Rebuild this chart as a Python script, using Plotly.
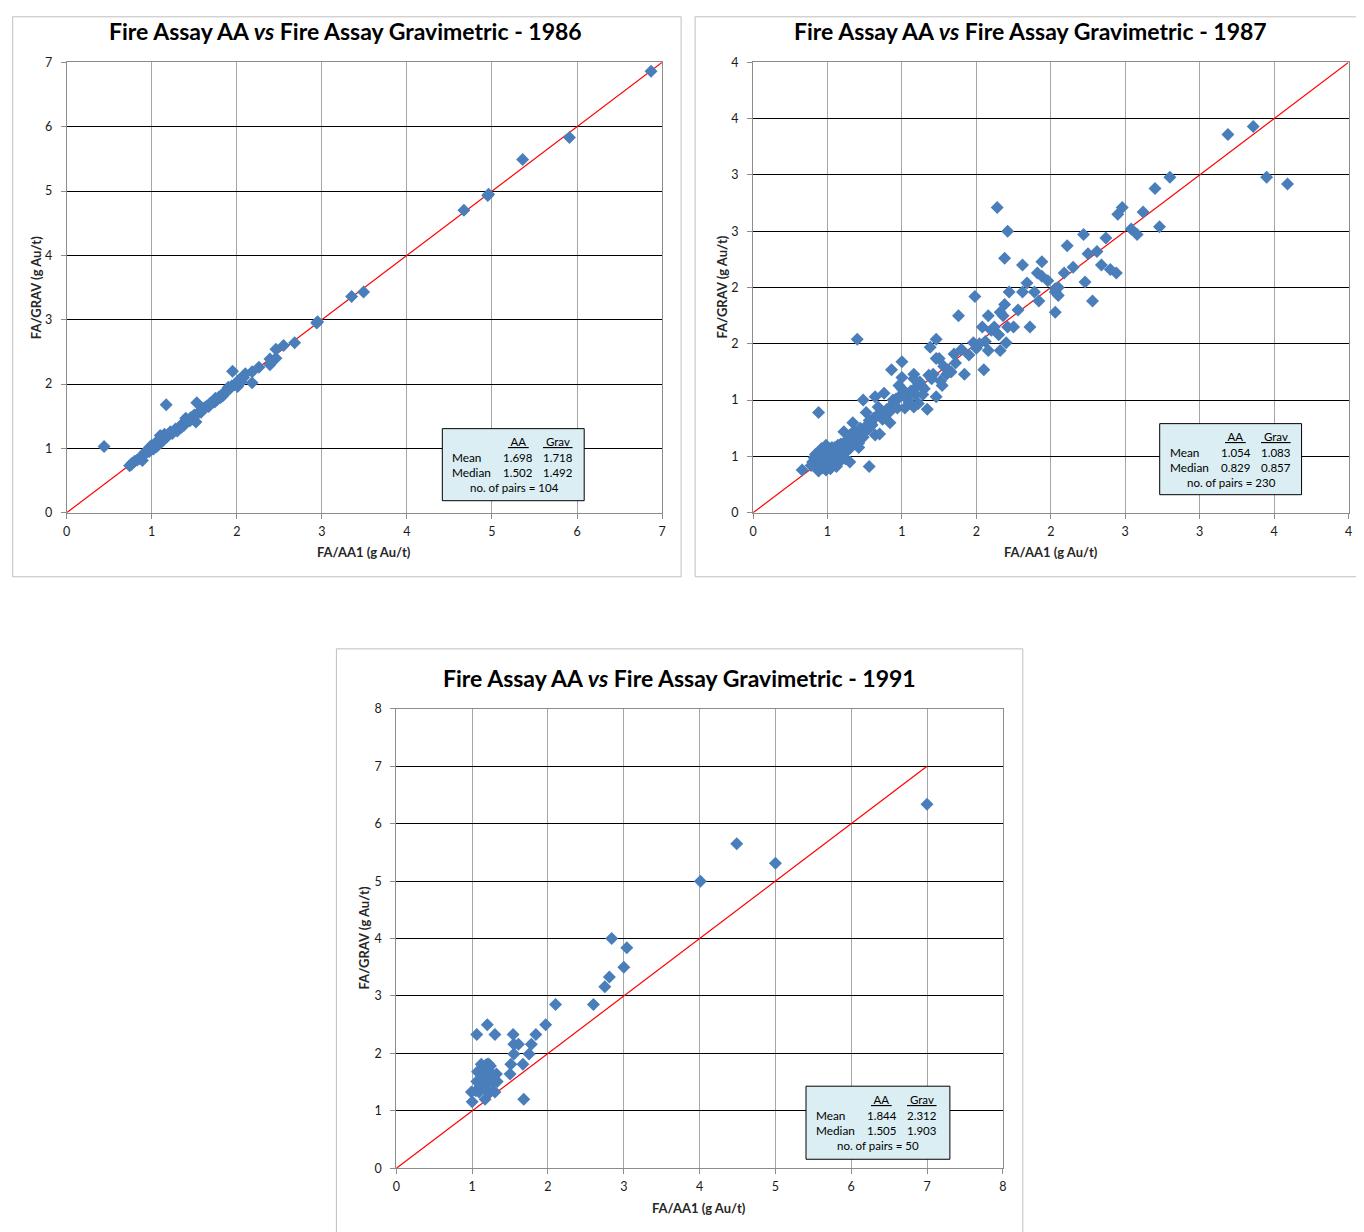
import plotly.graph_objects as go

W, H = 1364, 1232
# empirical mapping of figure pixels to the photographed page
SX, BX = 0.995, 10.3
SY, BY = 0.987, 15.7
FONT = "Lato"

# ---------------- DATA ----------------
titles = ["Fire Assay AA <i>vs</i> Fire Assay Gravimetric - 1986",
          "Fire Assay AA <i>vs</i> Fire Assay Gravimetric - 1987",
          "Fire Assay AA <i>vs</i> Fire Assay Gravimetric - 1991"]
x_title = "FA/AA1 (g Au/t)"
y_title = "FA/GRAV (g Au/t)"

aa_1986 = [0.44, 0.74, 0.77, 0.80, 0.83, 0.87, 0.89, 0.90, 0.93, 0.95, 0.97, 0.98, 1.00, 1.02, 1.04,
           1.06, 1.07, 1.09, 1.10, 1.12, 1.14, 1.15, 1.17, 1.18, 1.20, 1.22, 1.25, 1.27, 1.30, 1.32,
           1.34, 1.36, 1.38, 1.40, 1.42, 1.44, 1.46, 1.48, 1.50, 1.52, 1.53, 1.55, 1.57, 1.59, 1.61,
           1.63, 1.65, 1.67, 1.69, 1.71, 1.73, 1.75, 1.77, 1.79, 1.81, 1.83, 1.85, 1.88, 1.90, 1.92,
           1.94, 1.95, 1.97, 1.99, 2.01, 2.03, 2.05, 2.08, 2.10, 2.18, 2.18, 2.26, 2.39, 2.39, 2.46,
           2.46, 2.55, 2.68, 2.94, 2.95, 3.35, 3.49, 4.67, 4.95, 4.96, 5.36, 5.91, 6.87,
           0.76, 0.85, 0.92, 0.99, 1.03, 1.08, 1.11, 1.13, 1.24, 1.28, 1.35, 1.45, 1.58, 1.68, 1.74, 1.84]
grav_1986 = [1.03, 0.73, 0.77, 0.80, 0.82, 0.86, 0.81, 0.90, 0.92, 0.97, 0.95, 1.02, 1.05, 0.99, 1.05,
             1.03, 1.12, 1.08, 1.20, 1.14, 1.16, 1.22, 1.68, 1.18, 1.22, 1.26, 1.25, 1.28, 1.27, 1.32,
             1.35, 1.38, 1.36, 1.47, 1.42, 1.44, 1.48, 1.46, 1.52, 1.41, 1.71, 1.55, 1.58, 1.60, 1.62,
             1.64, 1.66, 1.65, 1.70, 1.72, 1.74, 1.78, 1.76, 1.80, 1.79, 1.84, 1.86, 1.89, 1.95, 1.93,
             1.97, 2.20, 1.99, 2.00, 1.96, 2.07, 2.03, 2.10, 2.16, 2.19, 2.02, 2.26, 2.39, 2.30, 2.40,
             2.54, 2.60, 2.64, 2.95, 2.97, 3.36, 3.43, 4.70, 4.93, 4.95, 5.49, 5.83, 6.86,
             0.75, 0.84, 0.94, 0.98, 1.01, 1.06, 1.10, 1.12, 1.23, 1.30, 1.33, 1.43, 1.56, 1.69, 1.72, 1.82]

aa_1987 = [3.19, 3.36, 3.45, 3.59, 2.80, 2.70, 2.62, 2.48, 2.45, 2.73, 2.58, 1.64, 1.71, 2.22, 2.37,
           2.11, 1.69, 1.94, 1.81, 2.34, 2.40, 2.09, 1.91, 1.94, 1.98, 2.03, 2.03, 2.23, 2.28, 1.72,
           1.81, 1.89, 1.49, 2.03, 1.69, 1.66, 1.38, 1.58, 1.68, 1.54, 1.62, 1.71, 1.75, 1.86, 1.70,
           1.66, 1.58, 1.55, 1.48, 0.70, 1.19, 1.23, 1.23, 1.25, 1.35, 1.42, 1.30, 1.21, 1.26, 1.27,
           1.23, 1.31, 0.93, 1.00, 1.00, 1.08, 1.08, 0.98, 1.00, 1.02, 1.08, 1.11, 1.17, 1.13, 0.88,
           0.82, 0.74, 0.76, 0.84, 0.92, 0.92, 0.94, 0.44, 0.78, 0.65, 0.33, 0.67, 0.61, 0.65, 0.71,
           0.82, 0.85, 0.76, 0.81,
           0.40, 0.41, 0.42, 0.43, 0.44, 0.45, 0.46, 0.47, 0.48, 0.49, 0.50, 0.50, 0.51, 0.52, 0.53,
           0.54, 0.55, 0.56, 0.57, 0.58, 0.59, 0.60, 0.61, 0.62, 0.63, 0.64, 0.66, 0.68, 0.70, 0.72,
           0.74, 0.43, 0.45, 0.47, 0.48, 0.52, 0.53, 0.55, 0.57, 0.59, 0.46, 0.51, 0.44, 0.49, 0.58,
           0.42, 0.47, 0.50, 0.53, 0.56, 0.60, 0.45, 0.49, 0.52, 0.55, 0.41, 0.46, 0.54, 0.57, 0.61,
           0.62, 0.66, 0.68, 0.72, 0.75, 0.78, 0.80, 0.83, 0.86, 0.88, 0.90, 0.93, 0.95, 0.97, 0.99,
           1.02, 1.04, 1.06, 1.09, 1.12, 1.15, 1.18, 1.20, 1.28, 1.33, 1.40, 1.45, 1.52, 1.60, 1.65,
           1.78, 0.69, 0.73, 0.77, 0.79, 0.87, 0.89, 0.96, 1.05, 1.10, 1.14, 1.36, 1.50, 1.56, 2.05,
           2.05, 2.44, 2.54, 0.51, 0.54, 0.48, 1.84, 1.92, 2.15, 2.25, 2.31, 0.39, 0.44, 0.51, 0.56,
           0.63, 0.67, 0.71, 0.48, 0.53, 0.58, 0.64, 0.50, 0.55, 0.60, 0.47, 0.52, 0.57, 0.62, 0.65,
           0.43, 0.46, 0.49, 0.54, 0.59]
grav_1987 = [3.36, 3.43, 2.98, 2.92, 2.98, 2.88, 2.67, 2.71, 2.65, 2.54, 2.47, 2.71, 2.50, 2.47, 2.44,
             2.37, 2.26, 2.23, 2.20, 2.20, 2.16, 2.13, 2.13, 2.10, 2.06, 1.99, 1.96, 2.05, 1.88, 1.96,
             1.96, 1.96, 1.92, 1.78, 1.85, 1.78, 1.75, 1.75, 1.75, 1.65, 1.65, 1.65, 1.65, 1.65, 1.51,
             1.44, 1.44, 1.27, 1.51, 1.54, 1.47, 1.54, 1.37, 1.37, 1.41, 1.23, 1.23, 1.23, 1.17, 1.13,
             1.03, 1.27, 1.27, 1.34, 1.20, 1.23, 1.19, 1.13, 1.10, 0.93, 0.94, 0.97, 0.92, 1.13, 1.06,
             1.03, 1.00, 0.89, 0.94, 0.80, 0.90, 1.00, 0.89, 0.41, 0.45, 0.38, 0.80, 0.72, 0.69, 0.58,
             0.69, 0.70, 0.77, 0.84,
             0.45, 0.42, 0.48, 0.40, 0.44, 0.47, 0.42, 0.50, 0.45, 0.38, 0.48, 0.52, 0.44, 0.50, 0.47,
             0.53, 0.49, 0.55, 0.51, 0.56, 0.53, 0.58, 0.55, 0.60, 0.57, 0.62, 0.60, 0.65, 0.64, 0.70,
             0.67, 0.50, 0.53, 0.40, 0.55, 0.42, 0.56, 0.44, 0.58, 0.47, 0.57, 0.57, 0.37, 0.60, 0.50,
             0.52, 0.46, 0.41, 0.51, 0.46, 0.54, 0.39, 0.43, 0.54, 0.58, 0.49, 0.51, 0.48, 0.52, 0.62,
             0.62, 0.70, 0.72, 0.75, 0.73, 0.82, 0.78, 0.86, 0.88, 0.85, 0.92, 0.95, 0.98, 0.93, 1.04,
             1.06, 1.00, 1.08, 1.05, 1.16, 1.10, 1.22, 1.19, 1.30, 1.25, 1.45, 1.40, 1.50, 1.62, 1.58,
             1.80, 0.66, 0.71, 0.74, 0.80, 0.83, 0.87, 1.01, 0.98, 1.12, 1.05, 1.33, 1.46, 1.52, 1.93,
             2.00, 2.13, 2.52, 0.47, 0.56, 0.51, 2.04, 1.88, 2.18, 2.30, 2.32, 0.42, 0.49, 0.46, 0.41,
             0.55, 0.64, 0.62, 0.43, 0.58, 0.45, 0.59, 0.40, 0.52, 0.51, 0.53, 0.39, 0.60, 0.48, 0.57,
             0.46, 0.50, 0.45, 0.43, 0.61]

aa_1991 = [7.00, 4.49, 5.00, 4.01, 2.84, 3.04, 3.00, 2.81, 2.75, 2.60, 2.10, 1.97, 1.84, 1.78, 1.75,
           1.67, 1.68, 1.61, 1.54, 1.55, 1.55, 1.51, 1.50, 1.20, 1.06, 1.30, 1.12, 1.20, 1.22, 1.07,
           1.20, 1.32, 1.06, 1.20, 1.33, 0.99, 1.09, 1.23, 1.30, 1.00, 1.17, 1.05, 1.10, 1.13, 1.18,
           1.25, 1.27, 1.17, 1.12, 1.24]
grav_1991 = [6.34, 5.65, 5.31, 5.00, 4.00, 3.84, 3.50, 3.33, 3.16, 2.85, 2.85, 2.50, 2.33, 2.16, 1.99,
             1.81, 1.20, 2.16, 2.33, 2.16, 1.99, 1.81, 1.64, 2.50, 2.33, 2.33, 1.81, 1.81, 1.81, 1.68,
             1.68, 1.64, 1.51, 1.51, 1.51, 1.33, 1.33, 1.33, 1.33, 1.16, 1.20, 1.35, 1.50, 1.72, 1.80,
             1.66, 1.50, 1.38, 1.62, 1.78]

one_to_one = [[0, 7], [0, 4], [0, 7]]

axis_max = [7, 4, 8]
tickvals_1986 = [0, 1, 2, 3, 4, 5, 6, 7]
ticktext_1986 = ["0", "1", "2", "3", "4", "5", "6", "7"]
tickvals_1987 = [0, 0.5, 1, 1.5, 2, 2.5, 3, 3.5, 4]
ticktext_1987 = ["0", "1", "1", "2", "2", "3", "3", "4", "4"]
tickvals_1991 = [0, 1, 2, 3, 4, 5, 6, 7, 8]
ticktext_1991 = ["0", "1", "2", "3", "4", "5", "6", "7", "8"]

stat_heads = ["AA", "Grav"]
stats_1986 = [["1.698", "1.718"], ["1.502", "1.492"], "104"]
stats_1987 = [["1.054", "1.083"], ["0.829", "0.857"], "230"]
stats_1991 = [["1.844", "2.312"], ["1.505", "1.903"], "50"]

# ---------------- LAYOUT HELPERS ----------------
def px_x(t):
    return ((t - BX) / SX) / W

def px_y(t):
    return 1 - ((t - BY) / SY) / H

panels = [
    dict(plot=(65, 661, 62, 512), frame=(11, 680, 16.5, 576), title=(344, 31),
         xt=(363, 551), yt=(34, 287), box=(441, 583, 428, 500)),
    dict(plot=(752, 1348, 62, 512), frame=(694, 1362, 16.5, 576), title=(1030, 31),
         xt=(1050, 551), yt=(720, 287), box=(1159, 1301, 423, 494)),
    dict(plot=(395, 1002, 708, 1167), frame=(335, 1022, 648, 1240), title=(678, 677),
         xt=(698, 1207), yt=(363, 937), box=(805, 949, 1085, 1158)),
]

series = [(aa_1986, grav_1986), (aa_1987, grav_1987), (aa_1991, grav_1991)]
ticks = [(tickvals_1986, ticktext_1986), (tickvals_1987, ticktext_1987), (tickvals_1991, ticktext_1991)]
stats = [stats_1986, stats_1987, stats_1991]

fig = go.Figure()
shapes = []
annotations = []

BLUE = "#4A7EBB"
GRID_V = "#A6A6A6"
AXIS_C = "#8C8C8C"


def ann(text, x, y, size, xanchor="center", **kw):
    d = dict(text=text, x=px_x(x), y=px_y(y), xref="paper", yref="paper", showarrow=False,
             xanchor=xanchor, yanchor="middle",
             font=dict(family=FONT, size=size, color=kw.pop("color", "#000000")))
    d.update(kw)
    annotations.append(d)


for i, pan in enumerate(panels):
    sfx = "" if i == 0 else str(i + 1)
    xa, ya = "x" + sfx, "y" + sfx
    x0, x1, y0, y1 = pan["plot"]
    tv, tt = ticks[i]
    fig.add_trace(go.Scatter(x=one_to_one[i], y=one_to_one[i], mode="lines",
                             line=dict(color="#FF0000", width=1.2),
                             xaxis=xa, yaxis=ya, hoverinfo="skip"))
    xs, ys = series[i]
    fig.add_trace(go.Scatter(x=xs, y=ys, mode="markers",
                             marker=dict(symbol="diamond", size=10, color=BLUE,
                                         line=dict(width=0)),
                             xaxis=xa, yaxis=ya))
    common = dict(showline=True, linecolor=AXIS_C, linewidth=1, mirror=True,
                  ticks="outside", ticklen=5, tickcolor=AXIS_C, zeroline=False,
                  tickfont=dict(family=FONT, size=12.5, color="#1a1a1a"),
                  tickvals=tv, ticktext=tt, range=[0, axis_max[i]], fixedrange=True)
    fig.update_layout(**{
        "xaxis" + sfx: dict(common, domain=[px_x(x0), px_x(x1)], anchor=ya,
                            showgrid=True, gridcolor=GRID_V, gridwidth=1, ticklabelstandoff=2),
        "yaxis" + sfx: dict(common, domain=[px_y(y1), px_y(y0)], anchor=xa,
                            showgrid=True, gridcolor="#000000", gridwidth=1, ticklabelstandoff=6),
    })
    fx0, fx1, fy0, fy1 = pan["frame"]
    shapes.append(dict(type="rect", xref="paper", yref="paper",
                       x0=px_x(fx0), x1=px_x(fx1), y0=px_y(fy1), y1=px_y(fy0),
                       line=dict(color="#BFBFBF", width=1), fillcolor="rgba(0,0,0,0)", layer="below"))
    tx, ty = pan["title"]
    ann("<b>" + titles[i] + "</b>", tx, ty, 23)
    ax_x, ax_y = pan["xt"]
    ann("<b>" + x_title + "</b>", ax_x, ax_y, 13, color="#262626")
    ay_x, ay_y = pan["yt"]
    ann("<b>" + y_title + "</b>", ay_x, ay_y, 13, color="#262626", textangle=-90)
    bx0, bx1, by0, by1 = pan["box"]
    shapes.append(dict(type="rect", xref="paper", yref="paper",
                       x0=px_x(bx0), x1=px_x(bx1), y0=px_y(by1), y1=px_y(by0),
                       line=dict(color="#000000", width=1), fillcolor="#DBEEF3", layer="above"))
    st = stats[i]
    c_aa = bx0 + 76
    c_gr = bx0 + 116
    rows_y = [by0 + 13, by0 + 29, by0 + 44, by0 + 59]
    ann("<u>&nbsp;" + stat_heads[0] + "&nbsp;</u>", c_aa, rows_y[0], 11.5)
    ann("<u>&nbsp;" + stat_heads[1] + "&nbsp;</u>", c_gr, rows_y[0], 11.5)
    for r, lab in enumerate(["Mean", "Median"]):
        ann(lab, bx0 + 8, rows_y[r + 1], 11.8, xanchor="left")
        ann(st[r][0], c_aa, rows_y[r + 1], 11.5)
        ann(st[r][1], c_gr, rows_y[r + 1], 11.5)
    ann("no. of pairs = " + st[2], bx0 + 72, rows_y[3], 11.5)

fig.update_layout(width=W, height=H, autosize=False, margin=dict(l=0, r=0, t=0, b=0),
                  paper_bgcolor="white", plot_bgcolor="white", showlegend=False,
                  shapes=shapes, annotations=annotations)

fig.write_html("out.html")
